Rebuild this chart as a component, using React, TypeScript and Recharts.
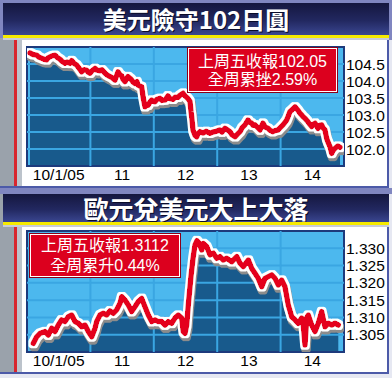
import React from 'react';
import { ComposedChart, Area, Line, XAxis, YAxis, CartesianGrid, ReferenceLine, ReferenceArea } from 'recharts';

const dayLabels = ['10/1/05', '11', '12', '13', '14'];
const dayTicks = [0.5, 1.5, 2.5, 3.5, 4.5];
const dayBounds = [1, 2, 3, 4];

const usdTitle = '美元險守102日圓';
const usdNote = ['上周五收報102.05', '全周累挫2.59%'];
const usdDomain = [101.5, 105];
const usdTicks = [102, 102.5, 103, 103.5, 104, 104.5];
const usdDay = [0.047,0.095,0.153,0.189,0.232,0.268,0.311,0.331,0.363,0.394,0.442,0.473,0.521,0.552,0.599,0.631,0.678,0.705,0.741,0.784,0.820,0.863,0.899,0.942,0.962,0.994,1.025,1.073,1.104,1.151,1.183,1.230,1.262,1.309,1.341,1.388,1.412,1.435,1.467,1.494,1.514,1.546,1.569,1.593,1.625,1.651,1.672,1.703,1.735,1.751,1.782,1.809,1.830,1.861,1.885,1.909,1.940,1.967,1.987,2.019,2.050,2.098,2.129,2.177,2.208,2.224,2.256,2.303,2.334,2.382,2.413,2.461,2.492,2.519,2.539,2.571,2.587,2.598,2.618,2.650,2.677,2.697,2.729,2.776,2.823,2.886,2.934,2.981,3.044,3.076,3.123,3.170,3.202,3.233,3.281,3.328,3.360,3.391,3.438,3.486,3.517,3.544,3.565,3.596,3.644,3.675,3.722,3.754,3.801,3.833,3.880,3.912,3.959,3.991,4.038,4.096,4.117,4.148,4.180,4.227,4.274,4.306,4.333,4.353,4.385,4.432,4.464,4.490,4.511,4.543,4.590,4.621,4.648,4.669,4.700,4.727,4.748,4.779,4.806,4.826,4.858,4.905,4.937];
const usdValue = [104.83,104.78,104.76,104.70,104.67,104.64,104.62,104.68,104.71,104.74,104.76,104.70,104.64,104.58,104.52,104.56,104.52,104.60,104.52,104.47,104.38,104.27,104.33,104.32,104.26,104.23,104.30,104.37,104.32,104.30,104.33,104.23,104.18,104.13,104.10,104.03,104.15,104.27,104.18,104.15,104.05,103.98,104.06,104.13,104.08,104.03,103.97,103.93,103.98,103.88,103.85,103.83,103.54,103.24,103.30,103.29,103.38,103.44,103.40,103.39,103.46,103.49,103.43,103.44,103.52,103.56,103.48,103.46,103.52,103.52,103.58,103.64,103.56,103.52,103.48,103.40,103.10,102.95,102.56,102.40,102.36,102.45,102.51,102.47,102.52,102.46,102.50,102.52,102.56,102.50,102.61,102.55,102.51,102.42,102.36,102.45,102.51,102.62,102.71,102.85,102.78,102.76,102.70,102.71,102.62,102.56,102.76,102.65,102.61,102.55,102.51,102.54,102.56,102.62,102.71,102.85,102.95,103.10,103.15,103.24,103.14,103.05,103.00,102.95,102.90,102.80,102.72,102.66,102.72,102.76,102.61,102.70,102.71,102.62,102.56,102.31,102.20,102.07,101.87,101.95,102.02,102.09,102.05];

const eurTitle = '歐元兌美元大上大落';
const eurNote = ['上周五收報1.3112', '全周累升0.44%'];
const eurDomain = [1.3, 1.335];
const eurTicks = [1.305, 1.31, 1.315, 1.32, 1.325, 1.33];
const eurDay = [0.099,0.153,0.205,0.284,0.336,0.390,0.442,0.494,0.547,0.599,0.651,0.705,0.757,0.809,0.863,0.915,0.967,1.021,1.073,1.099,1.151,1.203,1.257,1.309,1.361,1.415,1.467,1.494,1.546,1.598,1.651,1.703,1.756,1.809,1.861,1.913,1.967,2.019,2.071,2.125,2.177,2.229,2.282,2.334,2.386,2.440,2.465,2.492,2.519,2.544,2.587,2.618,2.650,2.681,2.713,2.756,2.781,2.834,2.886,2.939,2.992,3.044,3.096,3.150,3.229,3.308,3.360,3.412,3.491,3.544,3.596,3.648,3.702,3.754,3.806,3.860,3.912,3.964,4.017,4.069,4.121,4.175,4.227,4.279,4.333,4.358,4.385,4.412,4.437,4.490,4.543,4.595,4.648,4.700,4.752,4.806,4.858,4.910];
const eurValue = [1.3025,1.3044,1.3054,1.3059,1.3049,1.3069,1.3059,1.3078,1.3093,1.3088,1.3102,1.3107,1.3088,1.3083,1.3073,1.3078,1.3059,1.3044,1.3069,1.3088,1.3107,1.3112,1.3107,1.3119,1.3112,1.3122,1.3141,1.3160,1.3150,1.3136,1.3117,1.3131,1.3146,1.3155,1.3131,1.3107,1.3088,1.3093,1.3088,1.3088,1.3078,1.3088,1.3083,1.3098,1.3107,1.3098,1.3059,1.3054,1.3078,1.3136,1.3220,1.3270,1.3310,1.3322,1.3315,1.3295,1.3314,1.3305,1.3281,1.3286,1.3271,1.3276,1.3266,1.3271,1.3261,1.3276,1.3257,1.3247,1.3266,1.3242,1.3228,1.3213,1.3189,1.3213,1.3218,1.3223,1.3213,1.3194,1.3208,1.3189,1.3136,1.3102,1.3093,1.3083,1.3098,1.3078,1.3020,1.3098,1.3107,1.3078,1.3059,1.3083,1.3117,1.3073,1.3083,1.3078,1.3083,1.3078];

const usdData = usdDay.map((d, i) => ({ day: d, v: usdValue[i] }));
const eurData = eurDay.map((d, i) => ({ day: d, v: eurValue[i] }));

const LIGHT = '#4cb8ee';
const DARK = '#185a8c';
const GRID = '#3aa6e2';
const RED = '#e4001e';
const NUM_FONT = '"Liberation Sans", Arial, sans-serif';
const CJK_FONT = '"Noto Sans CJK TC", "Noto Sans CJK SC", sans-serif';
const NOTE_FONT = '"Liberation Sans", "Noto Sans CJK TC", sans-serif';

function PriceChart({ id, data, domain, ticks, digits, top, height, marginTop, marginBottom }: any) {
  return (
    <div style={{ position: 'absolute', left: 0, top, width: 392, height }}>
      <ComposedChart width={392} height={height} data={data}
        margin={{ top: marginTop, left: 27, right: 2, bottom: marginBottom }}>
        <defs>
          <filter id={id} filterUnits="userSpaceOnUse" x="0" y="0" width="392" height={height}>
            <feMorphology in="SourceAlpha" operator="dilate" radius="1.6" result="d" />
            <feOffset in="d" dx="1" dy="2.5" result="o" />
            <feFlood floodColor="#8c8c8c" result="g" />
            <feComposite in="g" in2="o" operator="in" result="s" />
            <feFlood floodColor="#ffffff" result="w" />
            <feComposite in="w" in2="d" operator="in" result="wo" />
            <feMerge>
              <feMergeNode in="s" />
              <feMergeNode in="wo" />
              <feMergeNode in="SourceGraphic" />
            </feMerge>
          </filter>
        </defs>
        <CartesianGrid horizontal={false} vertical={false} fill={LIGHT} />
        <XAxis dataKey="day" type="number" domain={[0, 5]} ticks={dayTicks}
          tickFormatter={(v: number) => dayLabels[dayTicks.indexOf(v)]}
          axisLine={false} tickLine={false} tickSize={0} tickMargin={3} height={20}
          interval={0} allowDataOverflow
          tick={{ fill: '#000', fontSize: 15.5, fontFamily: NUM_FONT }} />
        <YAxis orientation="right" type="number" domain={domain} ticks={ticks}
          allowDataOverflow width={46} axisLine={false} tickLine={false} tickSize={0} tickMargin={2}
          interval={0}
          tickFormatter={(v: number) => v.toFixed(digits)}
          tick={{ fill: '#000', fontSize: 15.5, fontFamily: NUM_FONT }} />
        <Area dataKey="v" type="linear" fill={DARK} fillOpacity={1} stroke="none" isAnimationActive={false} />
        {ticks.map((t: number) => (
          <ReferenceLine key={'h' + t} y={t} stroke={GRID} strokeWidth={2} />
        ))}
        {dayBounds.map((b) => (
          <ReferenceLine key={'v' + b} x={b} stroke={GRID} strokeWidth={2} />
        ))}
        <ReferenceArea x1={0} x2={5} y1={domain[0]} y2={domain[1]} fill="none" stroke="#1d3a7c" strokeWidth={2} />
        <Line dataKey="v" type="linear" stroke={RED} strokeWidth={5.5} dot={false}
          strokeLinejoin="round" strokeLinecap="round"
          className={'fx-' + id} isAnimationActive={false} />
      </ComposedChart>
    </div>
  );
}

function NoteBox({ lines, left, top, width, height, lineHeight, pad }: any) {
  return (
    <div style={{
      position: 'absolute', left, top, width, height, boxSizing: 'border-box',
      background: '#dc001e', border: '1px solid #ffffff', boxShadow: '0 0 0 1px #8a0018',
      color: '#fff', fontFamily: NOTE_FONT, fontSize: 16, lineHeight: lineHeight + 'px',
      textAlign: 'center', paddingTop: pad, whiteSpace: 'nowrap',
    }}>
      {lines.map((l: string) => <div key={l}>{l}</div>)}
    </div>
  );
}

function TitleBar({ text, top, height, size }: any) {
  return (
    <>
      <div style={{
        position: 'absolute', left: 3, top, width: 386, height,
        background: 'linear-gradient(to bottom, #15173f 0%, #222860 55%, #3a4690 100%)',
        color: '#fff', fontFamily: CJK_FONT, fontWeight: 700, fontSize: size,
        lineHeight: height + 'px', textAlign: 'center', letterSpacing: 0,
        textShadow: '1px 1px 0 #0a0c2a',
      }}>{text}</div>
      <div style={{ position: 'absolute', left: 3, top: top + height, width: 386, height: 3, background: '#f6ea00' }} />
      <div style={{ position: 'absolute', left: 3, top: top + height + 3, width: 386, height: 2, background: '#c9ccd8' }} />
    </>
  );
}

export default function App() {
  return (
    <div style={{ position: 'absolute', left: 0, top: 0, width: 392, height: 378, overflow: 'hidden', background: '#e6e8f2' }}>
      <style>{`.fx-usd .recharts-line-curve{filter:url(#usd);} .fx-eur .recharts-line-curve{filter:url(#eur);}`}</style>
      <div style={{ position: 'absolute', left: 0, top: 0, width: 392, height: 40, background: '#8086c0' }} />
      <div style={{ position: 'absolute', left: 0, top: 38, width: 14, height: 334, background: '#9aa2ab' }} />
      <div style={{ position: 'absolute', left: 14, top: 38, width: 3, height: 334, background: '#d8262e' }} />
      <div style={{ position: 'absolute', left: 17, top: 38, width: 5, height: 334, background: '#bcc3cb' }} />
      <div style={{ position: 'absolute', left: 22, top: 40, width: 365, height: 147, background: '#fff' }} />
      <div style={{ position: 'absolute', left: 387, top: 38, width: 2, height: 336, background: '#4c5aa8' }} />
      <div style={{ position: 'absolute', left: 0, top: 186, width: 389, height: 2, background: '#4c5aa8' }} />
      <div style={{ position: 'absolute', left: 0, top: 188, width: 392, height: 6, background: '#8086c0' }} />
      <div style={{ position: 'absolute', left: 22, top: 227, width: 365, height: 145, background: '#fff' }} />
      <div style={{ position: 'absolute', left: 0, top: 372, width: 389, height: 2, background: '#4c5aa8' }} />
      <TitleBar text={usdTitle} top={3} height={32} size={24} />
      <TitleBar text={eurTitle} top={194} height={28} size={25} />
      <PriceChart id="usd" data={usdData} domain={usdDomain} ticks={usdTicks} digits={1}
        top={0} height={190} marginTop={47} marginBottom={4} />
      <PriceChart id="eur" data={eurData} domain={eurDomain} ticks={eurTicks} digits={3}
        top={200} height={174} marginTop={31} marginBottom={2} />
      <NoteBox lines={usdNote} left={188} top={48} width={149} height={44} lineHeight={18} pad={4} />
      <NoteBox lines={eurNote} left={30} top={234} width={150} height={43} lineHeight={20} pad={1} />
    </div>
  );
}
